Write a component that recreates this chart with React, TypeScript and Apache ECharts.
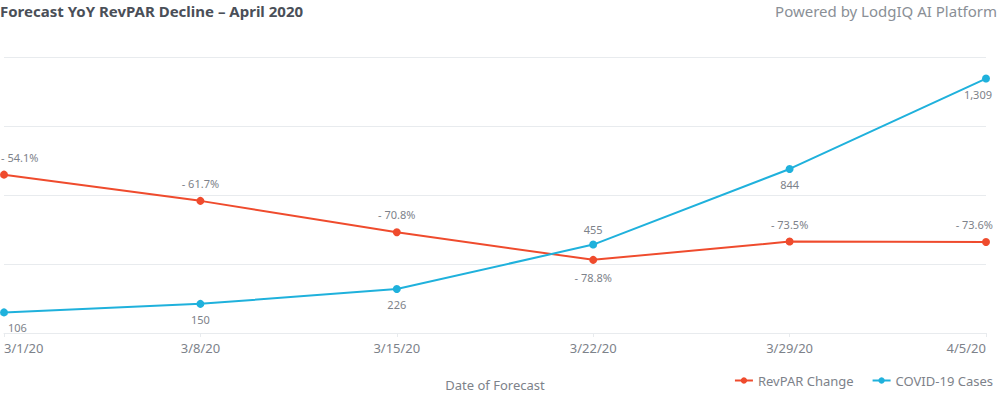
import React, { useEffect, useRef } from "react";
import * as echarts from "echarts";

const categories = ["3/1/20", "3/8/20", "3/15/20", "3/22/20", "3/29/20", "4/5/20"];
const revparChange = [-54.1, -61.7, -70.8, -78.8, -73.5, -73.6];
const covidCases = [106, 150, 226, 455, 844, 1309];
const covidLabelPos = ["bottom", "bottom", "bottom", "top", "bottom", "bottom"];
const revparLabelPos = ["top", "top", "top", "bottom", "top", "top"];

const RED = "#ef4b2d";
const BLUE = "#1fb1dc";
const GRAY = "#7d828a";
const FONT = "'Noto Sans', sans-serif";

export default function App() {
  const ref = useRef<HTMLDivElement>(null);
  useEffect(() => {
    document.body.style.margin = "0";
    const chart = echarts.init(ref.current!, null, { renderer: "svg" });
    const n = categories.length;
    const alignFor = (i: number) => (i === 0 ? "left" : i === n - 1 ? "right" : "center");
    chart.setOption({
      animation: false,
      textStyle: { fontFamily: FONT },
      title: [
        {
          text: "Forecast YoY RevPAR Decline – April 2020",
          left: 0,
          top: 3,
          padding: 0,
          textStyle: { fontSize: 15, fontWeight: "bold", color: "#4a4f58", fontFamily: FONT, lineHeight: 16 },
        },
        {
          text: "Powered by LodgIQ AI Platform",
          right: 3,
          top: 3,
          padding: 0,
          textStyle: { fontSize: 15, fontWeight: "normal", color: "#8a8f96", fontFamily: FONT, lineHeight: 16 },
        },
      ],
      legend: {
        right: 2,
        bottom: 1,
        itemWidth: 18,
        itemHeight: 8,
        itemGap: 18,
        textStyle: { color: GRAY, fontSize: 13, fontFamily: FONT },
        data: ["RevPAR Change", "COVID-19 Cases"],
      },
      grid: { left: 4, right: 14, top: 57, bottom: 60, containLabel: false, outerBoundsMode: "none" },
      xAxis: {
        type: "category",
        data: categories,
        boundaryGap: false,
        name: "Date of Forecast",
        nameLocation: "middle",
        nameGap: 45,
        nameTextStyle: { color: GRAY, fontSize: 13, fontFamily: FONT },
        axisLine: { lineStyle: { color: "#e8ebee" } },
        axisTick: { show: true, length: 4, lineStyle: { color: "#e8ebee" } },
        axisLabel: {
          color: GRAY,
          fontSize: 13,
          margin: 8,
          alignMinLabel: "left",
          alignMaxLabel: "right",
          fontFamily: FONT,
        },
      },
      yAxis: [
        {
          type: "value",
          min: -100,
          max: -20,
          interval: 20,
          axisLabel: { show: false },
          axisLine: { show: false },
          axisTick: { show: false },
          splitLine: { lineStyle: { color: "#e8ebee" } },
        },
        {
          type: "value",
          min: 0,
          max: 1420,
          interval: 355,
          axisLabel: { show: false },
          axisLine: { show: false },
          axisTick: { show: false },
          splitLine: { show: false },
        },
      ],
      series: [
        {
          name: "RevPAR Change",
          type: "line",
          yAxisIndex: 0,
          color: RED,
          symbol: "circle",
          symbolSize: 8,
          lineStyle: { width: 2, color: RED },
          itemStyle: { color: RED },
          data: revparChange.map((v, i) => ({
            value: v,
            label: {
              show: true,
              position: revparLabelPos[i],
              align: alignFor(i),
              offset: i === 0 ? [-3, 0] : i === n - 1 ? [7, 0] : [0, 0],
              distance: 8,
              color: GRAY,
              fontSize: 11,
              fontFamily: FONT,
              formatter: "- " + Math.abs(v).toFixed(1) + "%",
            },
          })),
        },
        {
          name: "COVID-19 Cases",
          type: "line",
          yAxisIndex: 1,
          color: BLUE,
          symbol: "circle",
          symbolSize: 8,
          lineStyle: { width: 2, color: BLUE },
          itemStyle: { color: BLUE },
          data: covidCases.map((v, i) => ({
            value: v,
            label: {
              show: true,
              position: covidLabelPos[i],
              align: alignFor(i),
              offset: i === 0 ? [4, 0] : i === n - 1 ? [6, 0] : [0, 0],
              distance: 6,
              color: GRAY,
              fontSize: 11,
              fontFamily: FONT,
              formatter: v.toLocaleString("en-US"),
            },
          })),
        },
      ],
    });
    return () => chart.dispose();
  }, []);
  return <div ref={ref} style={{ width: 1000, height: 393 }} />;
}
